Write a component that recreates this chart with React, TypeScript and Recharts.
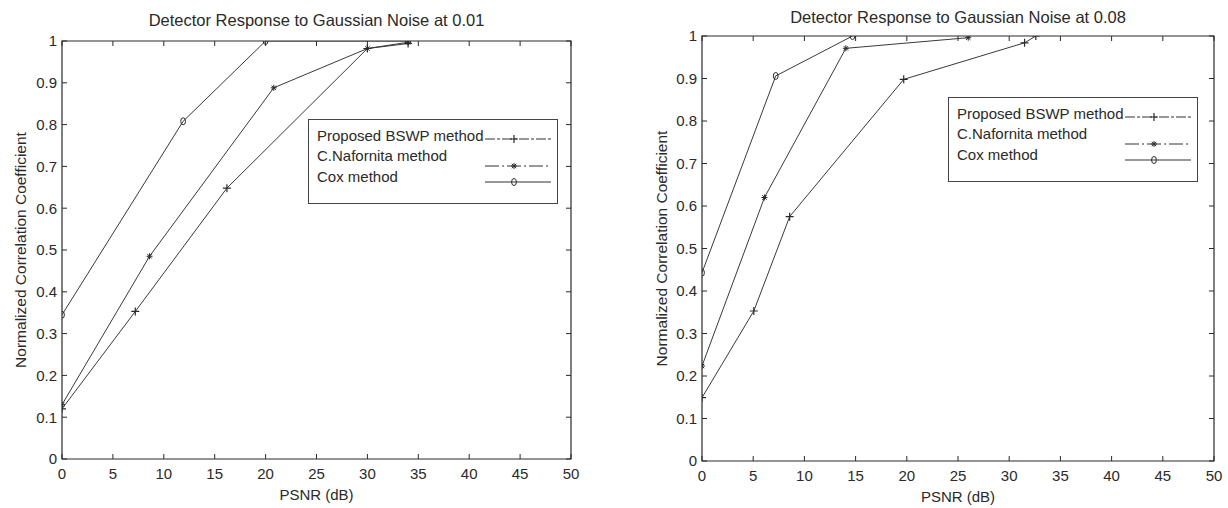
import React from 'react';
import { LineChart, Line, XAxis, YAxis, ReferenceArea, Legend } from 'recharts';

const xTicks = [0, 5, 10, 15, 20, 25, 30, 35, 40, 45, 50];
const yTicks = [0, 0.1, 0.2, 0.3, 0.4, 0.5, 0.6, 0.7, 0.8, 0.9, 1];
const seriesNames = ['Proposed BSWP method', 'C.Nafornita method', 'Cox method'];

// Gaussian noise at 0.01
const psnrBswp01 = [0, 7.2, 16.2, 30, 34];
const corrBswp01 = [0.12, 0.353, 0.648, 0.982, 0.994];
const psnrNaf01 = [0, 8.6, 20.8, 30, 34];
const corrNaf01 = [0.13, 0.485, 0.888, 0.982, 0.997];
const psnrCox01 = [0, 11.9, 20, 34];
const corrCox01 = [0.345, 0.808, 1, 1];

// Gaussian noise at 0.08
const psnrBswp08 = [0, 5.06, 8.56, 19.7, 31.5, 32.6];
const corrBswp08 = [0.149, 0.353, 0.575, 0.898, 0.984, 1];
const psnrNaf08 = [0, 6.1, 14.05, 26];
const corrNaf08 = [0.2235, 0.62, 0.971, 0.996];
const psnrCox08 = [0, 7.2, 14.7];
const corrCox08 = [0.443, 0.906, 1];

const FONT = '"Liberation Sans", Arial, sans-serif';
const INK = '#2a2a2a';
const markers = ['plus', 'star', 'circle'];

const pairs = (xs: number[], ys: number[]) => xs.map((x, i) => ({ x, y: ys[i] }));

const Marker = ({ kind, cx, cy }: { kind: string; cx?: number; cy?: number }) => {
  if (cx == null || cy == null) return null;
  if (kind === 'plus') {
    return <path d={`M${cx - 4},${cy}H${cx + 4}M${cx},${cy - 4}V${cy + 4}`} stroke={INK} strokeWidth={1.2} fill="none" />;
  }
  if (kind === 'star') {
    const d = 2.2;
    return (
      <path
        d={`M${cx - 3},${cy}H${cx + 3}M${cx},${cy - 3}V${cy + 3}M${cx - d},${cy - d}L${cx + d},${cy + d}M${cx - d},${cy + d}L${cx + d},${cy - d}`}
        stroke={INK}
        strokeWidth={1}
        fill="none"
      />
    );
  }
  return <ellipse cx={cx} cy={cy} rx={2.4} ry={3.5} stroke={INK} strokeWidth={1} fill="none" />;
};

const sampleDash = ['10 2 3 2', '14 3 2 3', undefined];

const LegendBox = () => {
  const textTops = [7, 27, 48];
  const sampleYs = [19, 46, 62];
  return (
    <div
      style={{
        width: 250,
        height: 85,
        border: '1px solid #444',
        background: '#fff',
        position: 'relative',
        boxSizing: 'border-box',
        fontFamily: FONT,
        fontSize: 15,
        color: INK,
      }}
    >
      {seriesNames.map((name, i) => (
        <div key={name} style={{ position: 'absolute', left: 8, top: textTops[i], lineHeight: '18px', whiteSpace: 'nowrap' }}>
          {name}
        </div>
      ))}
      <svg width={250} height={85} style={{ position: 'absolute', left: 0, top: 0 }}>
        {seriesNames.map((name, i) => (
          <g key={name}>
            <line x1={176} x2={242} y1={sampleYs[i]} y2={sampleYs[i]} stroke="#333" strokeWidth={1.2} strokeDasharray={sampleDash[i]} />
            <Marker kind={markers[i]} cx={205} cy={sampleYs[i]} />
          </g>
        ))}
      </svg>
    </div>
  );
};

type PanelProps = {
  title: string;
  titleTop: number;
  margin: { top: number; right: number; bottom: number; left: number };
  yAxisWidth: number;
  yLabelX: number;
  legendLeft: number;
  legendTop: number;
  series: { x: number; y: number }[][];
};

const W = 614;
const H = 508;

const Panel = ({ title, titleTop, margin, yAxisWidth, yLabelX, legendLeft, legendTop, series }: PanelProps) => {
  const plotTop = margin.top;
  const plotBottom = H - margin.bottom - 30;
  const plotLeft = margin.left + yAxisWidth;
  const plotRight = W - margin.right;

  const XTick = (p: any) => (
    <g>
      <line x1={p.x} x2={p.x} y1={plotBottom} y2={plotBottom - 5} stroke={INK} />
      <line x1={p.x} x2={p.x} y1={plotTop} y2={plotTop + 5} stroke={INK} />
      <text x={p.x} y={plotBottom + 19.5} textAnchor="middle" fontSize={15} fontFamily={FONT} fill={INK}>
        {p.payload.value}
      </text>
    </g>
  );

  const YTick = (p: any) => (
    <g>
      <line x1={plotLeft} x2={plotLeft + 5} y1={p.y} y2={p.y} stroke={INK} />
      <line x1={plotRight} x2={plotRight - 5} y1={p.y} y2={p.y} stroke={INK} />
      <text x={plotLeft - 5} y={p.y + 5.3} textAnchor="end" fontSize={15} fontFamily={FONT} fill={INK}>
        {p.payload.value}
      </text>
    </g>
  );

  return (
    <div style={{ position: 'relative', width: W, height: H }}>
      <div
        style={{
          position: 'absolute',
          top: titleTop,
          left: (plotLeft + plotRight) / 2,
          transform: 'translateX(-50%)',
          whiteSpace: 'nowrap',
          fontFamily: FONT,
          fontSize: 16.5,
          lineHeight: '19px',
          color: INK,
        }}
      >
        {title}
      </div>
      <LineChart width={W} height={H} margin={margin}>
        <XAxis
          dataKey="x"
          type="number"
          domain={[0, 50]}
          ticks={xTicks}
          interval={0}
          height={30}
          axisLine={false}
          tickLine={false}
          tickSize={0}
          tick={XTick}
          allowDataOverflow
          label={{ value: 'PSNR (dB)', position: 'bottom', offset: 0, fontSize: 15, fontFamily: FONT, fill: INK }}
        />
        <YAxis
          type="number"
          domain={[0, 1]}
          ticks={yTicks}
          interval={0}
          width={yAxisWidth}
          axisLine={false}
          tickLine={false}
          tickSize={0}
          tick={YTick}
          allowDataOverflow
          label={{
            value: 'Normalized Correlation Coefficient',
            angle: -90,
            position: 'insideLeft',
            offset: yLabelX,
            fontSize: 15.5,
            fontFamily: FONT,
            fill: INK,
            style: { textAnchor: 'middle' },
          }}
        />
        <ReferenceArea x1={0} x2={50} y1={0} y2={1} fill="none" stroke={INK} strokeWidth={1.2} ifOverflow="visible" />
        {series.map((data, i) => (
          <Line
            key={seriesNames[i]}
            data={data}
            dataKey="y"
            name={seriesNames[i]}
            type="linear"
            stroke="#3a3a3a"
            strokeWidth={1}
            isAnimationActive={false}
            activeDot={false}
            dot={(d: any) => <Marker key={`${i}-${d.index}`} kind={markers[i]} cx={d.cx} cy={d.cy} />}
          />
        ))}
        <Legend
          layout="horizontal"
          verticalAlign="middle"
          align="center"
          wrapperStyle={{ left: legendLeft, top: legendTop, width: 250, height: 85 }}
          content={() => <LegendBox />}
        />
      </LineChart>
    </div>
  );
};

export default function App() {
  return (
    <div style={{ position: 'absolute', left: 0, top: 0, width: 1228, height: 508, display: 'flex', background: '#fff' }}>
      <Panel
        title="Detector Response to Gaussian Noise at 0.01"
        titleTop={11}
        margin={{ top: 41, right: 43, bottom: 19, left: 0 }}
        yAxisWidth={62}
        yLabelX={20}
        legendLeft={308}
        legendTop={119}
        series={[pairs(psnrBswp01, corrBswp01), pairs(psnrNaf01, corrNaf01), pairs(psnrCox01, corrCox01)]}
      />
      <Panel
        title="Detector Response to Gaussian Noise at 0.08"
        titleTop={8}
        margin={{ top: 36, right: 14, bottom: 17, left: 0 }}
        yAxisWidth={88}
        yLabelX={47}
        legendLeft={334}
        legendTop={97}
        series={[pairs(psnrBswp08, corrBswp08), pairs(psnrNaf08, corrNaf08), pairs(psnrCox08, corrCox08)]}
      />
    </div>
  );
}
